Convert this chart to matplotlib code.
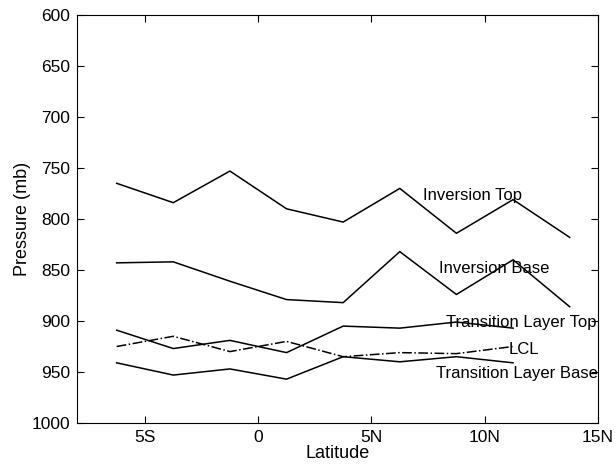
import numpy as np
import matplotlib.pyplot as plt

plt.rcParams['font.family'] = ['Liberation Sans', 'DejaVu Sans']

# latitude of each sounding composite (negative = south)
lat = [-6.25, -3.75, -1.25, 1.25, 3.75, 6.25, 8.75, 11.25, 13.75]

inv_top = [765, 784, 753, 790, 803, 770, 814, 781, 818]
inv_base = [843, 842, 861, 879, 882, 832, 874, 840, 886]
trans_top = [909, 927, 919, 931, 905, 907, 901, 907]
lcl = [925, 915, 930, 920, 935, 931, 932, 925]
trans_base = [941, 953, 947, 957, 935, 940, 935, 941]

xticks = [-5, 0, 5, 10, 15]
xticklabels = ['5S', '0', '5N', '10N', '15N']

fig = plt.figure(figsize=(6.15, 4.65), dpi=100)
ax = fig.add_axes([77/615, 42/465, 521/615, 408/465])

ax.plot(lat, inv_top, 'k-', lw=1.1)
ax.plot(lat, inv_base, 'k-', lw=1.1)
ax.plot(lat[:8], trans_top, 'k-', lw=1.1)
ax.plot(lat[:8], lcl, 'k-.', lw=1.1)
ax.plot(lat[:8], trans_base, 'k-', lw=1.1)

fs = 12
ax.text(7.27, 777, 'Inversion Top', fontsize=fs, va='center')
ax.text(7.97, 849, 'Inversion Base', fontsize=fs, va='center')
ax.text(8.3, 901, 'Transition Layer Top', fontsize=fs, va='center')
ax.text(11.05, 928, 'LCL', fontsize=fs, va='center')
ax.text(7.85, 951, 'Transition Layer Base', fontsize=fs, va='center')

ax.set_xlim(-8, 15)
ax.set_ylim(1000, 600)
ax.set_xticks(xticks)
ax.set_xticklabels(xticklabels)
ax.set_yticks(np.arange(600, 1001, 50))
ax.tick_params(direction='in', top=True, right=True, labelsize=12.5, length=5, pad=5)
ax.set_xlabel('Latitude', fontsize=13, labelpad=0)
ax.set_ylabel('Pressure (mb)', fontsize=13, labelpad=0)

fig.savefig('out.png', dpi=100)
